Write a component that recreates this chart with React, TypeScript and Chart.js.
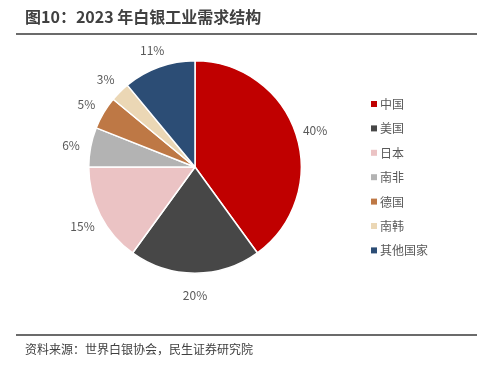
import React, { useEffect, useRef } from "react";
import { Chart, registerables } from "chart.js";

Chart.register(...registerables);

const categories = ["中国", "美国", "日本", "南非", "德国", "南韩", "其他国家"];
const shares = [40, 20, 15, 6, 5, 3, 11];
const colors = ["#C00000", "#474747", "#EBC3C4", "#B3B3B3", "#BE7845", "#EBD7B5", "#2C4D75"];
const title = "图10：2023 年白银工业需求结构";
const source = "资料来源：世界白银协会，民生证券研究院";

const FONT = '"Noto Sans CJK SC", "Noto Sans", sans-serif';

const labelPlugin = {
  id: "outerLabels",
  afterDatasetsDraw(chart: any) {
    const ctx = chart.ctx;
    const meta = chart.getDatasetMeta(0);
    ctx.save();
    ctx.font = `12px ${FONT}`;
    ctx.fillStyle = "#595959";
    ctx.textAlign = "center";
    ctx.textBaseline = "middle";
    meta.data.forEach((arc: any, i: number) => {
      const mid = (arc.startAngle + arc.endAngle) / 2;
      const r = arc.outerRadius + 20;
      const x = arc.x + Math.cos(mid) * r;
      const y = arc.y + Math.sin(mid) * r + 2;
      ctx.fillText(`${shares[i]}%`, x, y);
    });
    // legend
    const lx = 371;
    const ly0 = 104;
    const step = 24.4;
    categories.forEach((c, i) => {
      const y = ly0 + i * step;
      ctx.fillStyle = colors[i];
      ctx.fillRect(lx, y - 3, 6, 6);
      ctx.fillStyle = "#595959";
      ctx.textAlign = "left";
      ctx.fillText(c, lx + 9, y + 0.5);
    });
    ctx.restore();
  },
};

export default function App() {
  const ref = useRef<HTMLCanvasElement>(null);
  useEffect(() => {
    if (!ref.current) return;
    const chart = new Chart(ref.current, {
      type: "pie",
      data: {
        labels: categories,
        datasets: [
          {
            data: shares,
            backgroundColor: colors,
            borderColor: "#ffffff",
            borderWidth: 1.5,
          },
        ],
      },
      options: {
        responsive: false,
        animation: false,
        layout: { padding: { left: 88, top: 60, right: 175, bottom: 93 } },
        plugins: {
          legend: { display: false },
          tooltip: { enabled: false },
        },
      },
      plugins: [labelPlugin],
    });
    return () => chart.destroy();
  }, []);

  return (
    <div
      style={{
        position: "fixed",
        left: 0,
        top: 0,
        width: 477,
        height: 367,
        background: "#fff",
        overflow: "hidden",
        fontFamily: FONT,
      }}
    >
      <canvas ref={ref} width={477} height={367} style={{ position: "absolute", left: 0, top: 0 }} />
      <div
        style={{
          position: "absolute",
          left: 25,
          top: 5,
          fontSize: 16,
          fontWeight: "bold",
          color: "#404040",
          lineHeight: "22px",
          whiteSpace: "nowrap",
        }}
      >
        {title}
      </div>
      <div style={{ position: "absolute", left: 16, top: 33, width: 461, height: 2, background: "#6b6b6b" }} />
      <div style={{ position: "absolute", left: 16, top: 334, width: 461, height: 2, background: "#6b6b6b" }} />
      <div
        style={{
          position: "absolute",
          left: 25,
          top: 340,
          fontSize: 12,
          color: "#404040",
          lineHeight: "18px",
          whiteSpace: "nowrap",
        }}
      >
        {source}
      </div>
    </div>
  );
}
